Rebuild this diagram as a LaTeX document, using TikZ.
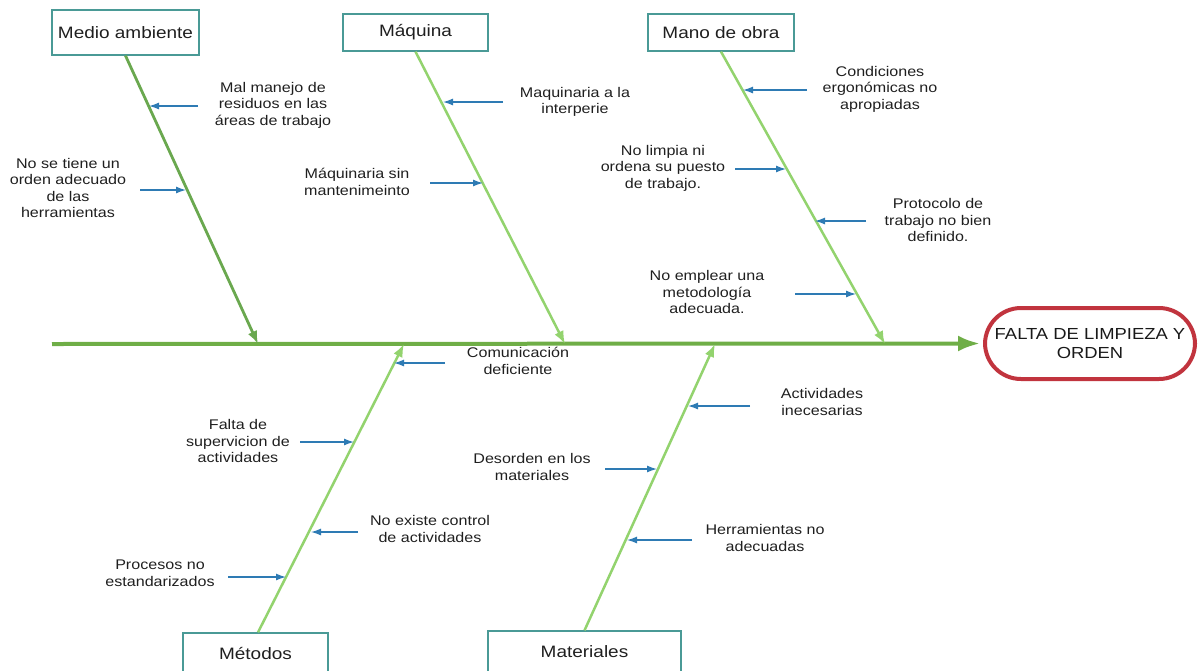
\documentclass[tikz,border=0pt]{standalone}
\usepackage{fontspec}
\setmainfont{Liberation Sans}[FakeStretch=1.15]
\usetikzlibrary{arrows.meta,calc}
\definecolor{spinegreen}{HTML}{6FAE47}
\definecolor{darkbranch}{HTML}{6AA84F}
\definecolor{lightbranch}{HTML}{93D36E}
\definecolor{causeblue}{HTML}{2E7BB4}
\definecolor{boxteal}{HTML}{4A9A96}
\definecolor{effectred}{HTML}{C1343E}
\begin{document}
\begin{tikzpicture}[x=1pt,y=-1pt,
  catbox/.style={draw=boxteal, line width=1.3pt, inner sep=0pt, font=\fontsize{16.5}{18}\selectfont, text=black!88},
  cause/.style={align=center, font=\fontsize{14}{16.5}\selectfont, text=black!88},
  causearrow/.style={draw=causeblue, line width=1.3pt, -{Latex[length=10pt,width=7pt]}},
  branch/.style={draw=lightbranch, line width=2.5pt, -{Latex[length=13pt,width=10pt]}},
  darkbranchline/.style={draw=darkbranch, line width=2.8pt, -{Latex[length=13pt,width=10pt]}},
  spineline/.style={draw=spinegreen, line width=4pt, -{Latex[length=22pt,width=16pt]}},
  effectbox/.style={draw=effectred, line width=4pt, rounded corners=36pt, minimum width=210pt, minimum height=71pt, align=center, font=\fontsize{16}{19}\selectfont, text=black!90}
]
\useasboundingbox (0,0) rectangle (1203,670);

% category boxes
\node[catbox, minimum width=147pt, minimum height=45pt] (medio) at (125.5,32.5) {Medio ambiente};
\node[catbox, minimum width=145pt, minimum height=37pt] (maquina) at (415.5,32.5) {Máquina};
\node[catbox, minimum width=146pt, minimum height=37pt] (mano) at (721,32.5) {Mano de obra};
\node[catbox, minimum width=145pt, minimum height=40pt] (metodos) at (255.5,653) {Métodos};
\node[catbox, minimum width=193pt, minimum height=42pt] (materiales) at (584.5,652) {Materiales};

% effect
\node[effectbox] (effect) at (1090,343.5) {FALTA DE LIMPIEZA Y\\ORDEN};

% spine
\coordinate (spinestart) at (52,344);
\draw[spineline] (spinestart) -- ([xshift=-3pt]effect.west);

% branch ends on spine
\coordinate (sMedio) at (258,344);
\coordinate (sMaquina) at (565,344);
\coordinate (sMano) at (885,344);
\coordinate (sMetodos) at (404,344);
\coordinate (sMateriales) at (715,344);

\draw[darkbranchline] (medio.south) -- (sMedio);
\draw[branch] (maquina.south) -- (sMaquina);
\draw[branch] (mano.south) -- (sMano);
\draw[branch] ([xshift=2.5pt]metodos.north) -- (sMetodos);
\draw[branch] (materiales.north) -- (sMateriales);

% causes: Medio ambiente
\node[cause] (c1) at (273,105) {Mal manejo de\\residuos en las\\áreas de trabajo};
\coordinate (t1) at (198,106); \coordinate (h1) at (149,106);
\draw[causearrow] (t1) -- (h1);
\node[cause] (c2) at (68,188) {No se tiene un\\orden adecuado\\de las\\herramientas};
\coordinate (t2) at (140,190); \coordinate (h2) at (186,190);
\draw[causearrow] (t2) -- (h2);

% causes: Maquina
\node[cause] (c3) at (575,102) {Maquinaria a la\\interperie};
\coordinate (t3) at (503,102); \coordinate (h3) at (443,102);
\draw[causearrow] (t3) -- (h3);
\node[cause] (c4) at (357,182) {Máquinaria sin\\mantenimeinto};
\coordinate (t4) at (430,183); \coordinate (h4) at (483,183);
\draw[causearrow] (t4) -- (h4);

% causes: Mano de obra
\node[cause] (c5) at (880,89) {Condiciones\\ergonómicas no\\apropiadas};
\coordinate (t5) at (807,90); \coordinate (h5) at (743,90);
\draw[causearrow] (t5) -- (h5);
\node[cause] (c6) at (663,168) {No limpia ni\\ordena su puesto\\de trabajo.};
\coordinate (t6) at (735,169); \coordinate (h6) at (786,169);
\draw[causearrow] (t6) -- (h6);
\node[cause] (c7) at (938,220) {Protocolo de\\trabajo no bien\\definido.};
\coordinate (t7) at (866,221); \coordinate (h7) at (815,221);
\draw[causearrow] (t7) -- (h7);
\node[cause] (c8) at (707,292) {No emplear una\\metodología\\adecuada.};
\coordinate (t8) at (795,294); \coordinate (h8) at (856,294);
\draw[causearrow] (t8) -- (h8);

% causes: Metodos
\node[cause] (c9) at (518,361) {Comunicación\\deficiente};
\coordinate (t9) at (445,363); \coordinate (h9) at (394,363);
\draw[causearrow] (t9) -- (h9);
\node[cause] (c10) at (238,441) {Falta de\\supervicion de\\actividades};
\coordinate (t10) at (300,442); \coordinate (h10) at (354,442);
\draw[causearrow] (t10) -- (h10);
\node[cause] (c11) at (430,529) {No existe control\\de actividades};
\coordinate (t11) at (358,532); \coordinate (h11) at (311,532);
\draw[causearrow] (t11) -- (h11);
\node[cause] (c12) at (160,573) {Procesos no\\estandarizados};
\coordinate (t12) at (228,577); \coordinate (h12) at (286,577);
\draw[causearrow] (t12) -- (h12);

% causes: Materiales
\node[cause] (c13) at (822,402) {Actividades\\inecesarias};
\coordinate (t13) at (750,406); \coordinate (h13) at (688,406);
\draw[causearrow] (t13) -- (h13);
\node[cause] (c14) at (532,467) {Desorden en los\\materiales};
\coordinate (t14) at (605,469); \coordinate (h14) at (657,469);
\draw[causearrow] (t14) -- (h14);
\node[cause] (c15) at (765,538) {Herramientas no\\adecuadas};
\coordinate (t15) at (692,540); \coordinate (h15) at (627,540);
\draw[causearrow] (t15) -- (h15);
\end{tikzpicture}
\end{document}
